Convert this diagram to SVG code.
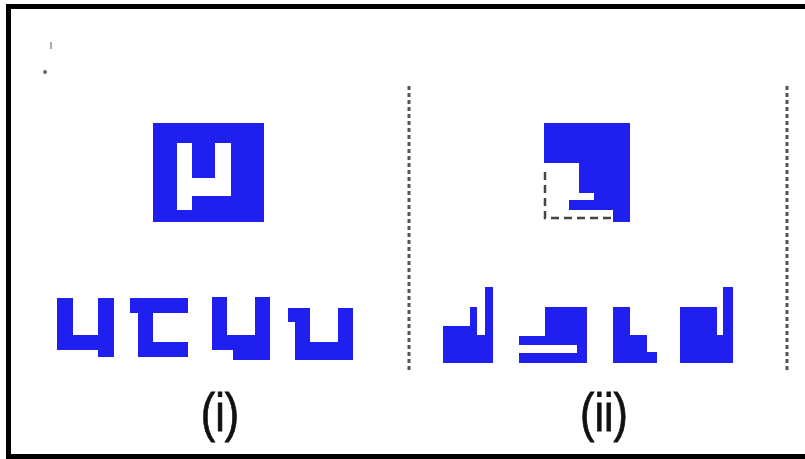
<svg xmlns="http://www.w3.org/2000/svg" width="805" height="459" viewBox="0 0 805 459">
<style>
.blue{fill:#1f1fef}
.white{fill:#ffffff}
.dash{fill:none;stroke:#444;stroke-width:2.5;stroke-dasharray:8 5}
.divider{fill:none;stroke:#555;stroke-width:3;stroke-dasharray:4 3}
.label{font-family:"Liberation Sans",Arial,sans-serif;font-size:54px;fill:#111;stroke:#111;stroke-width:0.8;text-anchor:middle}
</style>
<rect x="0" y="0" width="805" height="459" fill="#ffffff"/>
<rect x="8.5" y="6.5" width="810" height="450" fill="none" stroke="#000" stroke-width="5"/>
<g id="marks">
<rect x="50" y="42" width="2" height="7" fill="#aaa"/>
<circle cx="45" cy="72" r="2" fill="#666"/>
</g>
<g id="dividers">
<line class="divider" x1="409" y1="86" x2="409" y2="370"/>
<line class="divider" x1="787" y1="86" x2="787" y2="370"/>
</g>
<g id="target-i">
<rect class="blue" x="153" y="123" width="111" height="99"/>
<polygon class="white" points="177,143 192,143 192,178 215,178 215,143 231,143 231,196 192,196 192,210 177,210"/>
</g>
<g id="target-ii">
<polygon class="blue" points="544,123 630,123 630,222 613,222 613,210 569,210 569,200 594,200 594,193 579,193 579,163 544,163"/>
<polyline class="dash" points="545,172 545,218 613,218"/>
</g>
<g id="piece-i-1"><polygon class="blue" points="57,298 73,298 73,335 98,335 98,298 114,298 114,357 98,357 98,350 57,350"/></g>
<g id="piece-i-2"><polygon class="blue" points="130,298 188,298 188,313 153,313 153,342 188,342 188,357 138,357 138,313 130,313"/></g>
<g id="piece-i-3"><polygon class="blue" points="212,297 227,297 227,335 255,335 255,297 270,297 270,360 233,360 233,350 212,350"/></g>
<g id="piece-i-4"><polygon class="blue" points="288,308 310,308 310,342 338,342 338,308 353,308 353,360 295,360 295,322 288,322"/></g>
<g id="piece-ii-1"><polygon class="blue" points="443,326 470,326 470,307 477,307 477,335 485,335 485,287 493,287 493,363 443,363"/></g>
<g id="piece-ii-2"><polygon class="blue" points="545,307 587,307 587,363 519,363 519,353 577,353 577,345 519,345 519,336 545,336"/></g>
<g id="piece-ii-3"><polygon class="blue" points="613,307 630,307 630,335 647,335 647,352 657,352 657,363 613,363"/></g>
<g id="piece-ii-4"><polygon class="blue" points="680,307 717,307 717,335 723,335 723,287 733,287 733,363 680,363"/></g>
<g id="labels">
<text class="label" transform="translate(220,431) scale(0.8,1)">(i)</text>
<text class="label" transform="translate(604,431) scale(0.8,1)">(ii)</text>
</g>
</svg>
